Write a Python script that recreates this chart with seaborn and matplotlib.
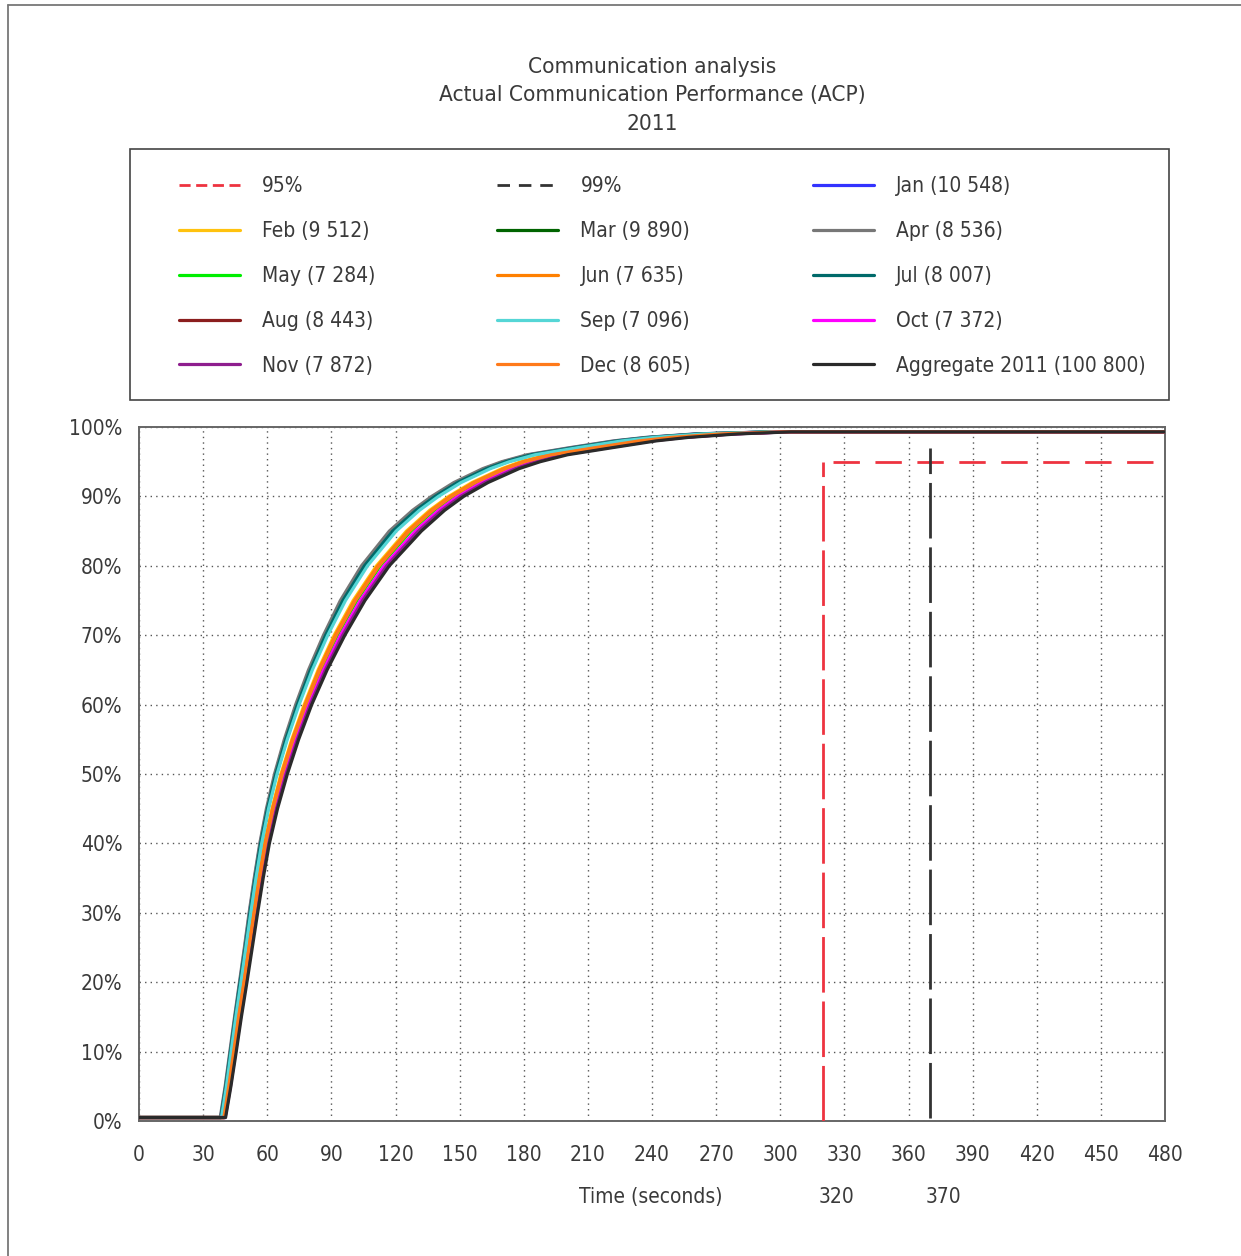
import numpy as np
import pandas as pd
import matplotlib
matplotlib.use("Agg")
import matplotlib.pyplot as plt
import seaborn as sns
from matplotlib.lines import Line2D
from matplotlib.patches import Rectangle

# percentage of communications completed (common levels for every series)
pct_levels = [0.5, 0.5, 5, 10, 15, 20, 25, 30, 35, 40, 45, 50, 55, 60, 65, 70, 75, 80, 85, 88,
              90, 92, 94, 95, 96, 97, 98, 98.5, 99, 99.3, 99.3]

# time (s) at which each series reaches the levels above
t_jan = [0, 38.2, 40.5, 42.7, 44.9, 47.2, 49.5, 51.7, 54.1, 56.7, 59.9, 63.7, 68.4, 73.7, 79.8, 86.8,
         94.8, 104.8, 117.9, 128.8, 137.7, 148.2, 161.7, 170.6, 182.5, 202, 223, 238, 261, 295.5, 480]
t_feb = [0, 39.5, 41.8, 44.0, 46.3, 48.7, 51.1, 53.5, 56.0, 58.7, 62.2, 66.4, 71.5, 77.3, 83.8, 91.3,
         100.2, 111.1, 125.1, 136.0, 144.9, 155.8, 169.8, 178.7, 191, 211, 232, 247, 270, 300, 480]
t_mar = [0, 38.5, 40.8, 43.0, 45.2, 47.5, 49.8, 52.1, 54.5, 57.2, 60.4, 64.3, 69.1, 74.5, 80.7, 87.8,
         96.0, 106.2, 119.5, 130.4, 139.3, 149.9, 163.5, 172.4, 184.3, 204, 225, 240, 263, 296.5, 480]
t_apr = [0, 38.0, 40.3, 42.5, 44.7, 47.0, 49.3, 51.5, 53.9, 56.5, 59.6, 63.4, 68.0, 73.3, 79.3, 86.3,
         94.2, 104.1, 117.1, 128.0, 136.9, 147.3, 160.8, 169.7, 181.5, 201, 222, 237, 260, 295, 480]
t_may = [0, 39.8, 42.2, 44.5, 46.8, 49.2, 51.7, 54.1, 56.6, 59.4, 63.0, 67.3, 72.5, 78.4, 85.1, 92.8,
         101.9, 112.9, 127.2, 138.1, 147.0, 158.1, 172.2, 181.4, 193.9, 214, 235, 250, 273, 301.5, 480]
t_jun = [0, 39.6, 41.9, 44.2, 46.5, 48.9, 51.3, 53.7, 56.2, 58.9, 62.5, 66.7, 71.8, 77.7, 84.2, 91.8,
         100.8, 111.7, 125.8, 136.7, 145.6, 156.6, 170.6, 179.6, 192, 212, 233, 248, 271, 300.5, 480]
t_jul = [0, 38.3, 40.6, 42.8, 45.0, 47.3, 49.7, 51.9, 54.3, 56.9, 60.1, 64.0, 68.7, 74.1, 80.2, 87.3,
         95.4, 105.5, 118.7, 129.6, 138.5, 149.0, 162.6, 171.5, 183.4, 203, 224, 239, 262, 296, 480]
t_aug = [0, 40.2, 42.6, 45.1, 47.4, 50.0, 52.4, 54.9, 57.5, 60.3, 64.0, 68.5, 73.7, 79.8, 86.7, 94.8,
         104.1, 115.3, 130.0, 140.9, 149.8, 161.1, 175.4, 185.0, 197.7, 218, 239, 254, 277, 303.5, 480]
t_sep = [0, 38.6, 40.9, 43.1, 45.3, 47.7, 50.0, 52.3, 54.7, 57.4, 60.6, 64.6, 69.4, 74.9, 81.1, 88.3,
         96.6, 106.9, 120.3, 131.2, 140.1, 150.7, 164.4, 173.3, 185.3, 205, 226, 241, 264, 297, 480]
t_oct = [0, 40.1, 42.5, 44.9, 47.3, 49.8, 52.2, 54.7, 57.3, 60.1, 63.8, 68.2, 73.4, 79.4, 86.3, 94.3,
         103.5, 114.7, 129.3, 140.2, 149.1, 160.3, 174.6, 184.1, 196.7, 217, 238, 253, 276, 303, 480]
t_nov = [0, 40.3, 42.8, 45.2, 47.6, 50.1, 52.6, 55.1, 57.7, 60.5, 64.3, 68.8, 74.1, 80.1, 87.2, 95.3,
         104.6, 115.9, 130.7, 141.6, 150.5, 161.8, 176.2, 185.9, 198.6, 219, 240, 255, 278, 304, 480]
t_dec = [0, 39.7, 42.0, 44.3, 46.6, 49.1, 51.5, 53.9, 56.4, 59.2, 62.7, 67.0, 72.1, 78.0, 84.6, 92.3,
         101.3, 112.3, 126.5, 137.4, 146.3, 157.3, 171.4, 180.5, 192.9, 213, 234, 249, 272, 301, 480]
t_agg = [0, 40.5, 43.0, 45.5, 47.9, 50.5, 53.0, 55.5, 58.1, 61.0, 64.8, 69.4, 74.7, 80.8, 88.0, 96.3,
         105.7, 117.1, 132.1, 143.0, 151.9, 163.3, 177.8, 187.7, 200.5, 221, 242, 257, 280, 305, 480]

series_names = ["Jan", "Feb", "Mar", "Apr", "May", "Jun", "Jul", "Aug", "Sep", "Oct", "Nov", "Dec", "Aggregate 2011"]
series_counts = ["10 548", "9 512", "9 890", "8 536", "7 284", "7 635", "8 007", "8 443", "7 096", "7 372", "7 872", "8 605", "100 800"]
series_times = [t_jan, t_feb, t_mar, t_apr, t_may, t_jun, t_jul, t_aug, t_sep, t_oct, t_nov, t_dec, t_agg]
series_colors = ["#3333ff", "#ffc20e", "#006400", "#777777", "#00ee00", "#ff8000", "#006a6a", "#8b1e1e",
                 "#55d6d6", "#ff00ff", "#8e1e8e", "#ff7a1a", "#2a2a2a"]

# thresholds
thr_pct = [95, 99]
thr_time = [320, 370]
thr_colors = ["#ee3340", "#333333"]

# long table for seaborn
rows = []
for name, cnt, times in zip(series_names, series_counts, series_times):
    lab = f"{name} ({cnt})"
    for t, p in zip(times, pct_levels):
        rows.append({"series": lab, "time": t, "pct": p})
df = pd.DataFrame(rows)
labels = [f"{n} ({c})" for n, c in zip(series_names, series_counts)]
palette = dict(zip(labels, series_colors))

sns.set_theme(style="white")
plt.rcParams["font.family"] = ["DejaVu Sans"]
plt.rcParams["font.stretch"] = "condensed"
txt_col = "#3a3a3a"
fs = 15

W, H = 1241, 1256
fig = plt.figure(figsize=(W / 100, H / 100), dpi=100)
ax = fig.add_axes([139 / W, 1 - 1121 / H, (1165 - 139) / W, (1121 - 427) / H])

sns.lineplot(data=df, x="time", y="pct", hue="series", hue_order=labels, palette=palette,
             estimator=None, sort=False, linewidth=2.3, legend=False, ax=ax, zorder=3)

# threshold lines
ax.plot([thr_time[0], thr_time[0]], [0, thr_pct[0]], color=thr_colors[0], lw=2,
        linestyle=(0, (20, 3.2)), zorder=4)
ax.plot([thr_time[0], 480], [thr_pct[0], thr_pct[0]], color=thr_colors[0], lw=2,
        linestyle=(11.5, (9.5, 5.6)), zorder=4)
ax.plot([thr_time[1], thr_time[1]], [0.5, thr_pct[1] - 2], color=thr_colors[1], lw=2,
        linestyle=(0, (20, 3.2)), zorder=4)

ax.set_xlim(0, 480)
ax.set_ylim(0, 100)
ax.set_xticks(np.arange(0, 481, 30))
ax.set_yticks(np.arange(0, 101, 10))
ax.set_yticklabels([f"{v}%" for v in range(0, 101, 10)])
ax.tick_params(axis="both", direction="out", length=7, width=1.2, color="#666666",
               labelsize=fs, labelcolor=txt_col)
ax.tick_params(axis="x", pad=10)
ax.tick_params(axis="y", pad=5)
ax.grid(True, linestyle=(0, (1, 3)), color="#555555", linewidth=1)
for s in ax.spines.values():
    s.set_color("#666666")
    s.set_linewidth(1.4)

ax.set_xlabel("Time (seconds)", fontsize=fs, color=txt_col)
ax.xaxis.set_label_coords(0.499, -0.095)
ax.set_ylabel("")
for t in thr_time:
    ax.text(t + 6.5, -0.11, str(t), transform=ax.get_xaxis_transform(), ha="center", va="center",
            fontsize=fs, color=txt_col)

# title
for i, line in enumerate(["Communication analysis", "Actual Communication Performance (ACP)", "2011"]):
    fig.text(652 / W, 1 - (67 + 28.5 * i) / H, line, ha="center", va="center", fontsize=16.2, color=txt_col)

# legend box and legend
fig.add_artist(Rectangle((130 / W, 1 - 400 / H), (1169 - 130) / W, (400 - 149) / H,
                         transform=fig.transFigure, fill=False, edgecolor="#444444", linewidth=1.2))
h95 = Line2D([], [], color=thr_colors[0], lw=2, linestyle=(0, (4, 2)))
h99 = Line2D([], [], color=thr_colors[1], lw=2, linestyle=(0, (4.5, 3.2)))
hs = [Line2D([], [], color=c, lw=2.3) for c in series_colors]
# matplotlib fills legend columns first, so reorder for the row-wise layout
order_h = [h95, hs[1], hs[4], hs[7], hs[10], h99, hs[2], hs[5], hs[8], hs[11], hs[0], hs[3], hs[6], hs[9], hs[12]]
order_l = ["95%", labels[1], labels[4], labels[7], labels[10], "99%", labels[2], labels[5], labels[8],
           labels[11], labels[0], labels[3], labels[6], labels[9], labels[12]]
fig.legend(order_h, order_l, loc="upper left", bbox_to_anchor=(179 / W, 1 - 176.5 / H), ncol=3,
           frameon=False, fontsize=fs, labelcolor=txt_col, handlelength=2.93, handletextpad=1.06,
           columnspacing=5.85, labelspacing=1.19, borderpad=0, borderaxespad=0)

# outer frame of the page
fig.add_artist(Line2D([8 / W, 8 / W], [0, 1 - 5 / H], transform=fig.transFigure, color="#777777", lw=1.3))
fig.add_artist(Line2D([8 / W, 1], [1 - 5 / H, 1 - 5 / H], transform=fig.transFigure, color="#777777", lw=1.3))

fig.savefig("out.png", dpi=100, facecolor="white")
